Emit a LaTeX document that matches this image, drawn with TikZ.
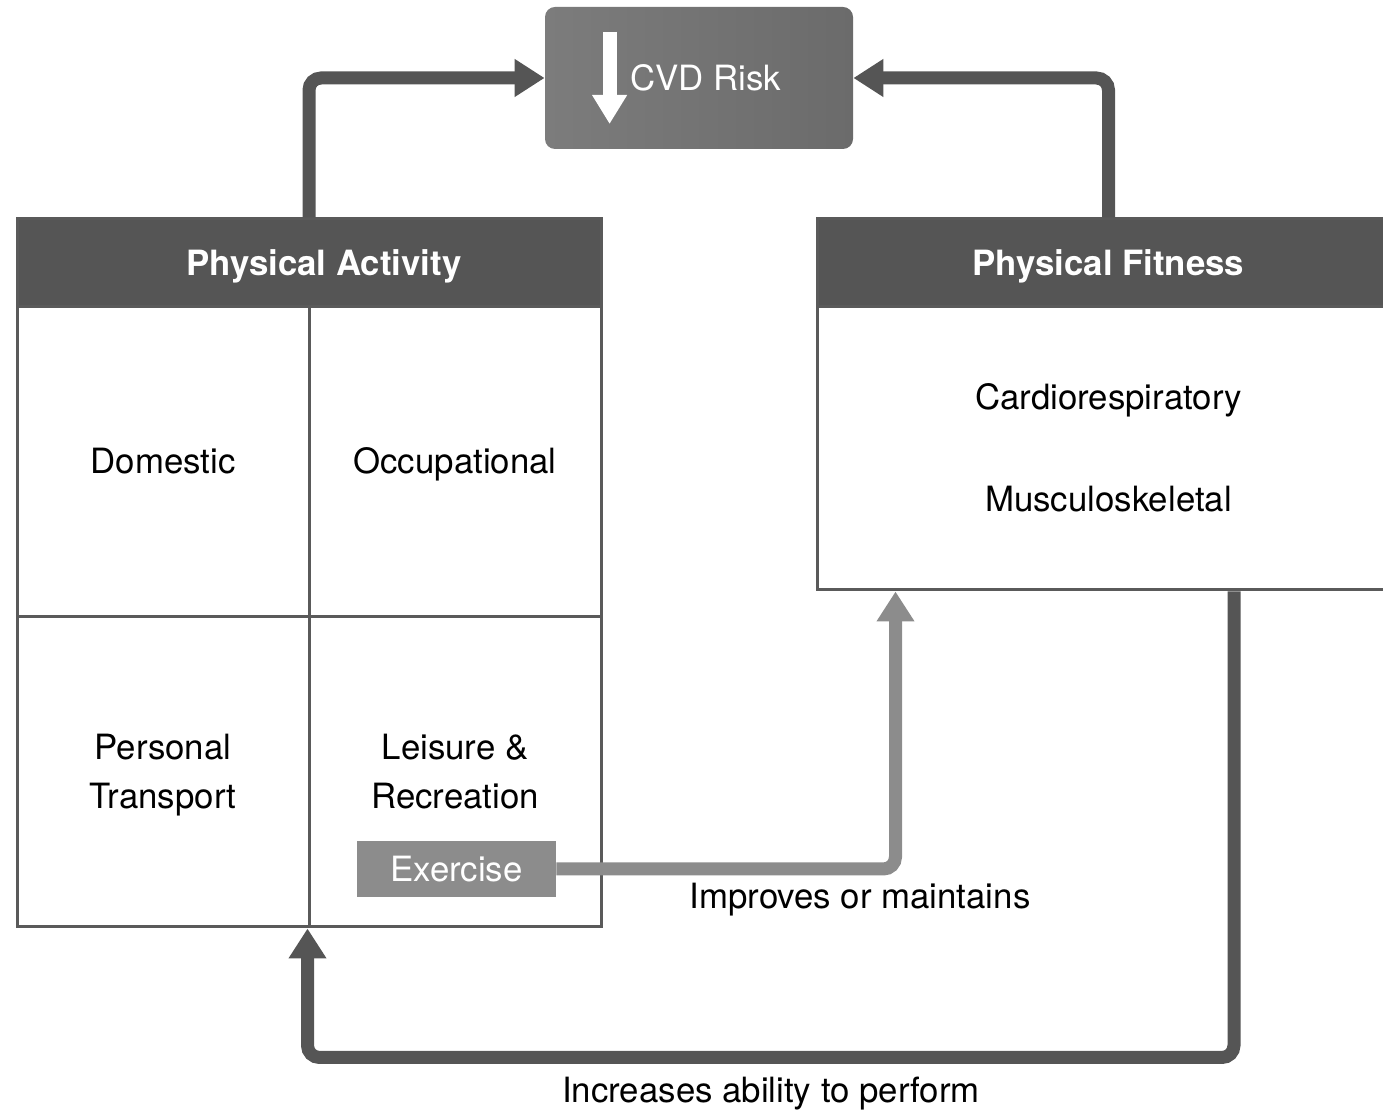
\documentclass[tikz,border=0pt]{standalone}
\usepackage{fontspec}
\setmainfont{TeX Gyre Heros}
\usetikzlibrary{
	arrows.meta,
	positioning,
	calc
}
\definecolor{HeadInk}{HTML}{555555}
\definecolor{FrameLine}{HTML}{5A5A5A}
\definecolor{ExerciseGray}{HTML}{8C8C8C}
\definecolor{RiskLeft}{HTML}{7C7C7C}
\definecolor{RiskRight}{HTML}{6B6B6B}
\newcommand\cellstrut{\rule[-4.5pt]{0pt}{20.6pt}}
\newcommand\topstrut{\rule{0pt}{16.5pt}}

\begin{document}
\begin{tikzpicture}[
 x=0.5pt,y=-0.5pt,
 font=\fontsize{17.4}{24.5}\selectfont,
 head/.style={draw=FrameLine,fill=HeadInk,line width=1.5pt,text=white,
   font=\fontsize{17.4}{24.5}\selectfont\bfseries,minimum height=44pt,
   text depth=0pt,inner sep=0pt},
 cell/.style={draw=FrameLine,line width=1.5pt,align=center,inner sep=0pt,
   minimum width=146pt,minimum height=155pt,
   execute at begin node=\cellstrut,execute at end node=\cellstrut},
 risk/.style={rounded corners=5pt,left color=RiskLeft,right color=RiskRight,
   text=white,minimum width=154pt,minimum height=71pt,inner sep=0pt},
 exbox/.style={fill=ExerciseGray,text=white,minimum width=99.5pt,
   minimum height=28pt,inner sep=0pt},
 link/.style={-{Triangle[length=15pt,width=18pt]},draw=HeadInk,
   line width=6.5pt,rounded corners=6pt}
]
 \useasboundingbox (0,0) rectangle (1383,1111);
 % outcome at the top
 \node[risk] (cvd) at (699,78) {\hspace*{7pt}CVD Risk};
 \draw[white,line width=7pt,-{Triangle[length=14.5pt,width=16.5pt]}]
   ($(cvd.west)+(65,-46)$)--($(cvd.west)+(65,46)$);
 % physical activity domains
 \node[head,minimum width=292pt] (pahead) at (309,263) {\hspace*{15pt}Physical Activity};
 \node[cell] (domestic) at (163,462) {Domestic};
 \node[cell] (occup) at (455,462) {Occupational};
 \node[cell] (transport) at (163,772) {\topstrut Personal\\Transport};
 \node[cell] (leisure) at (455,772) {\topstrut Leisure \&\\Recreation};
 \node[exbox] (exercise) at (456.5,869) {Exercise};
 % physical fitness components
 \node[head,minimum width=291.5pt] (pfhead) at (1108.5,263) {Physical Fitness};
 \node[cell,minimum width=291.5pt,minimum height=141.5pt] (pfbody) at (1108.5,448.5)
   {\topstrut Cardiorespiratory\\[26.5pt]Musculoskeletal};
 \coordinate (fitin) at ($(pfbody.south west)+(80,0)$);
 \coordinate (fitout) at ($(pfbody.south)+(125.5,0)$);
 % links
 \draw[link] (pahead.north)|-(cvd.west);
 \draw[link] (pfhead.north)|-(cvd.east);
 \draw[link,draw=ExerciseGray] (exercise.east)-|(fitin);
 \draw[link] (fitout)--++(0,466)-|(leisure.south west);
 \node (improves) at (860,900) {Improves or maintains};
 \node (increases) at (771,1094) {Increases ability to perform};
\end{tikzpicture}
\end{document}
